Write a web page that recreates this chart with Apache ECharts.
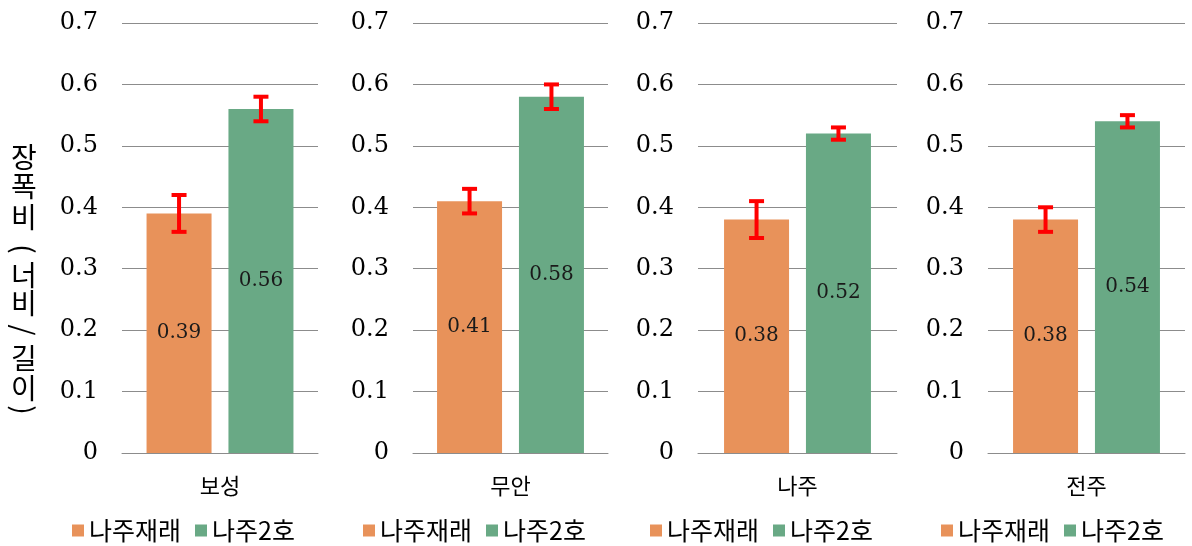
<!DOCTYPE html>
<html><head><meta charset="utf-8">
<script src="https://cdn.jsdelivr.net/npm/echarts@6/dist/echarts.min.js"></script>
<style>html,body{margin:0;padding:0;background:#fff}#c{width:1192px;height:546px}</style>
</head><body><div id="c"></div>
<script>
const categories = ['보성', '무안', '나주', '전주'];
const seriesNames = ['나주재래', '나주2호'];
const valuesNative = [0.39, 0.41, 0.38, 0.38];
const valuesNo2 = [0.56, 0.58, 0.52, 0.54];
const errNative = [0.03, 0.02, 0.03, 0.02];
const errNo2 = [0.02, 0.02, 0.01, 0.01];
const yAxisTitle = '장폭비(너비/길이)';
const yMin = 0, yMax = 0.7, yInterval = 0.1;

// layout / style
const gridLefts = [122, 413, 698, 988];
const gridWidths = [196, 195, 199, 197];
const legendLefts = [72, 363, 650, 941];
const colors = ['#E8925A', '#69A985'];
const BAR_W = 65, BAR_GAP_PCT = 26;
const NUM_FONT = '"DejaVu Serif","Liberation Serif",serif';
const KR_FONT = '"Noto Sans CJK KR","Noto Sans",sans-serif';

function errRender(side) {
  return function (params, api) {
    const v = api.value(1), e = api.value(2);
    const top = api.coord([api.value(0), v + e]);
    const bot = api.coord([api.value(0), v - e]);
    const x = top[0] + side * BAR_W * (1 + BAR_GAP_PCT / 100) / 2;
    const cw = 15, ch = 4;
    return {
      type: 'group',
      children: [
        { type: 'rect', shape: { x: x - 2, y: top[1], width: 4, height: bot[1] - top[1] }, style: { fill: '#FF0000' } },
        { type: 'rect', shape: { x: x - cw / 2, y: top[1] - ch / 2, width: cw, height: ch }, style: { fill: '#FF0000' } },
        { type: 'rect', shape: { x: x - cw / 2, y: bot[1] - ch / 2, width: cw, height: ch }, style: { fill: '#FF0000' } }
      ]
    };
  };
}

const grids = [], xAxes = [], yAxes = [], series = [], legends = [];
categories.forEach((cat, i) => {
  grids.push({ left: gridLefts[i], width: gridWidths[i], top: 23, height: 430, outerBoundsMode: 'none', containLabel: false });
  xAxes.push({
    type: 'category', gridIndex: i, data: [cat],
    axisLine: { show: true, lineStyle: { color: '#8c8c8c', width: 1 } },
    axisTick: { show: false },
    axisLabel: { margin: 22, fontSize: 22, color: '#000', fontFamily: KR_FONT }
  });
  yAxes.push({
    type: 'value', gridIndex: i, min: yMin, max: yMax, interval: yInterval,
    axisLine: { show: false }, axisTick: { show: false },
    splitLine: { lineStyle: { color: '#8c8c8c', width: 1 } },
    axisLabel: {
      margin: 24, fontSize: 24, color: '#000', fontFamily: NUM_FONT,
      formatter: (v) => (Math.round(v * 10) / 10).toString()
    }
  });
  const vals = [valuesNative[i], valuesNo2[i]];
  const errs = [errNative[i], errNo2[i]];
  seriesNames.forEach((name, s) => {
    series.push({
      type: 'bar', name: name, xAxisIndex: i, yAxisIndex: i,
      data: [vals[s]], barWidth: BAR_W, barGap: BAR_GAP_PCT + '%',
      itemStyle: { color: colors[s] },
      label: { show: true, position: 'inside', color: '#1a1a1a', fontSize: 20, fontFamily: NUM_FONT, formatter: '{c}' },
      silent: true
    });
  });
  seriesNames.forEach((name, s) => {
    series.push({
      type: 'custom', name: 'err_' + i + '_' + s, xAxisIndex: i, yAxisIndex: i,
      data: [[0, vals[s], errs[s]]],
      encode: { x: 0, y: 1 },
      renderItem: errRender(s === 0 ? -1 : 1),
      z: 10, silent: true
    });
  });
  legends.push({
    data: seriesNames, left: legendLefts[i], top: 518, padding: 0,
    icon: 'rect', itemWidth: 12, itemHeight: 12, itemGap: 14,
    textStyle: { fontSize: 25, color: '#000', fontFamily: KR_FONT },
    selectedMode: false
  });
});

// vertical y-axis title: Hangul upright, punctuation rotated
const titleChars = Array.from(yAxisTitle);
const titleY = [157, 186, 217, 249, 275, 303, 330, 358, 388, 410];
const graphics = titleChars.map((ch, k) => {
  const rotated = (ch === '(' || ch === ')' || ch === '/');
  return {
    type: 'text', x: 24, y: titleY[k], rotation: rotated ? -Math.PI / 2 : 0,
    style: { text: ch, fontSize: 28, fontFamily: KR_FONT, fill: '#000', align: 'center', verticalAlign: 'middle' }
  };
});

const chart = echarts.init(document.getElementById('c'), null, { renderer: 'canvas' });
chart.setOption({
  animation: false,
  backgroundColor: '#fff',
  grid: grids, xAxis: xAxes, yAxis: yAxes, series: series, legend: legends,
  graphic: graphics
});
</script></body></html>
